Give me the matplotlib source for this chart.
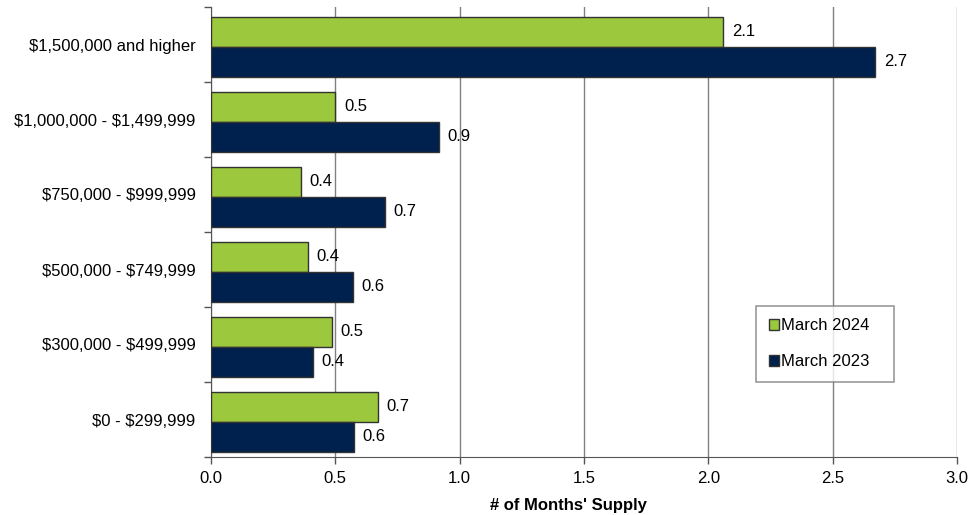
import matplotlib
matplotlib.use("Agg")
import matplotlib.pyplot as plt
import numpy as np

categories = ["$1,500,000 and higher", "$1,000,000 - $1,499,999", "$750,000 - $999,999",
              "$500,000 - $749,999", "$300,000 - $499,999", "$0 - $299,999"]
march_2024 = [2.06, 0.50, 0.36, 0.39, 0.485, 0.67]
march_2023 = [2.67, 0.915, 0.70, 0.57, 0.41, 0.575]
series_names = ["March 2024", "March 2023"]
x_ticks = [0.0, 0.5, 1.0, 1.5, 2.0, 2.5, 3.0]

plt.rcParams['font.family'] = ['Liberation Sans', 'DejaVu Sans']
plt.rcParams['text.parse_math'] = False

fig = plt.figure(figsize=(9.72, 5.15), dpi=100)
ax = fig.add_axes([211/972, 1-457/515, (957-211)/972, (457-7)/515])

green = "#9BC83C"
navy = "#00204D"
edge = "#333333"
fs = 12
pos = np.arange(len(categories))
h = 0.4
off = 0.03
ax.barh(pos - h/2 + off, march_2024, height=h, color=green, edgecolor=edge, linewidth=1, label=series_names[0], zorder=3)
ax.barh(pos + h/2 + off, march_2023, height=h, color=navy, edgecolor=edge, linewidth=1, label=series_names[1], zorder=3)

for i in range(len(categories)):
    ax.text(march_2024[i] + 0.035, pos[i] - h/2 + off, f"{march_2024[i]:.1f}", va="center", ha="left", fontsize=fs, zorder=4)
    ax.text(march_2023[i] + 0.035, pos[i] + h/2 + off, f"{march_2023[i]:.1f}", va="center", ha="left", fontsize=fs, zorder=4)

ax.set_xlim(0, 3.0)
ax.set_ylim(len(categories) - 0.5, -0.5)
ax.set_xticks(x_ticks)
ax.set_xticklabels([f"{t:.1f}" for t in x_ticks], fontsize=fs)
ax.set_yticks(pos)
ax.set_yticklabels(categories, fontsize=fs)
ax.set_yticks(np.arange(-0.5, len(categories), 1.0), minor=True)
ax.tick_params(axis="y", which="major", length=0, pad=11)
ax.tick_params(axis="y", which="minor", length=5, color="#555555", width=1, direction="out")
ax.tick_params(axis="x", which="major", length=5, color="#555555", width=1, direction="out", pad=5)

ax.grid(axis="x", color="#808080", linewidth=1, zorder=0)
ax.spines["top"].set_visible(False)
ax.spines["right"].set_visible(False)
ax.spines["left"].set_color("#555555")
ax.spines["bottom"].set_color("#555555")

ax.set_xlabel("# of Months' Supply", fontsize=fs, fontweight="bold")
ax.xaxis.set_label_coords((568-211)/(957-211), -(498-457)/450)

leg = ax.legend(loc="upper left", bbox_to_anchor=((756-211)/746, 1-(376-7)/450, (894-756)/746, (376-306)/450),
                mode="expand", fontsize=fs, frameon=True, fancybox=False, edgecolor="#808080",
                handlelength=0.6, handleheight=0.6, handletextpad=0.15, labelspacing=1.25,
                borderpad=0.75, borderaxespad=0)
leg.get_frame().set_linewidth(1.2)

fig.savefig("out.png", dpi=100)
